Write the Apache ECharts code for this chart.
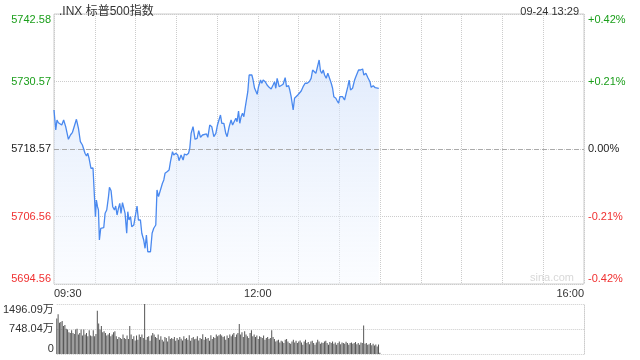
<!DOCTYPE html>
<html><head><meta charset="utf-8">
<script src="https://cdn.jsdelivr.net/npm/echarts@6/dist/echarts.min.js"></script>
<style>html,body{margin:0;padding:0;background:#fff}#c{width:640px;height:360px}</style>
</head><body><div id="c"></div>
<script>
const titleText = '.INX 标普500指数';
const dateText = '09-24 13:29';
const prevClose = 5718.57;
const priceHalfRange = 24.01;
const priceTickLabels = ['5694.56','5706.56','5718.57','5730.57','5742.58'];
const pctTickLabels = ['-0.42%','-0.21%','0.00%','+0.21%','+0.42%'];
const volMax = 1496.09;
const volTickLabels = ['0','748.04万','1496.09万'];
const timeTickMinutes = [0,150,390];
const timeTickLabels = ['09:30','12:00','16:00'];

const priceMinutes = [
0,1.3,2.2,3.2,4.4,5.7,7.1,8.6,10.6,12.1,
13.6,15.0,16.5,18.0,19.4,20.9,21.9,22.8,23.9,24.8,
25.8,27.2,28.7,29.8,30.5,31.2,32.0,32.7,33.4,34.4,
35.6,36.6,37.6,38.8,40.1,40.8,42.0,43.2,44.5,45.4,
46.4,47.4,48.4,49.3,50.4,51.3,52.3,53.5,54.3,55.2,
56.3,57.2,58.7,59.9,61.1,62.1,63.6,64.6,66.0,67.0,
68.0,69.0,70.0,71.0,72.2,73.4,74.9,75.8,76.9,78.3,
79.8,80.8,81.7,83.2,84.7,85.7,87.2,88.1,89.6,91.1,
92.0,93.5,95.0,96.0,97.5,99.0,99.9,100.9,102.3,103.8,
105.3,106.5,107.8,109.3,110.7,112.2,113.2,114.6,116.1,117.6,
119.1,120.3,121.5,122.5,123.5,125.0,126.4,127.4,128.9,130.3,
131.4,132.8,133.8,134.7,135.8,136.7,137.7,138.7,139.7,140.6,
141.7,142.6,143.6,144.6,145.6,146.5,147.6,148.5,149.5,150.5,
152.0,152.9,153.9,155.4,156.8,158.3,159.8,161.2,162.3,163.2,
164.2,165.7,167.1,168.6,170.1,171.1,172.6,173.5,174.5,176.0,
177.0,178.0,179.4,180.7,181.9,183.3,184.8,186.3,187.8,189.2,
190.3,191.7,192.7,193.6,195.1,196.1,197.1,198.1,199.1,200.3,
201.5,202.8,204.0,205.0,205.9,207.4,208.4,209.4,210.4,211.3,
212.3,213.8,215.0,216.2,217.2,218.2,219.7,221.2,222.1,223.1,
224.1,225.6,227.1,228.0,229.5,231.0,232.5,233.4,234.9,236.4,
237.8,239];

const priceValues = [
5725.51,5721.95,5723.73,5723.25,5723.60,5722.84,5723.73,5722.54,5720.30,5721.06,
5721.54,5721.24,5723.85,5722.25,5719.87,5719.28,5719.23,5717.81,5717.33,5717.81,
5716.92,5715.14,5715.19,5714.84,5706.53,5709.50,5708.31,5707.72,5702.39,5704.47,
5704.47,5704.57,5707.13,5707.72,5710.09,5711.76,5711.15,5708.31,5707.72,5708.43,
5706.83,5708.02,5708.91,5707.13,5709.02,5708.91,5707.13,5703.58,5707.42,5705.94,
5706.53,5704.75,5705.05,5704.75,5708.43,5705.94,5705.94,5703.58,5702.39,5700.91,
5703.27,5700.30,5700.61,5700.30,5703.58,5704.47,5705.05,5711.28,5710.09,5710.39,
5712.47,5713.06,5714.25,5714.53,5714.84,5716.31,5718.09,5717.50,5717.81,5717.50,
5716.49,5717.50,5716.61,5717.68,5717.50,5717.81,5718.69,5721.36,5722.54,5720.30,
5720.47,5721.82,5720.65,5721.06,5721.06,5721.24,5720.65,5722.84,5722.54,5720.76,
5721.36,5722.84,5723.14,5724.62,5723.14,5723.14,5721.36,5720.76,5722.54,5723.73,
5722.84,5723.14,5724.03,5723.43,5725.33,5723.14,5724.31,5724.92,5724.31,5725.81,
5725.51,5728.76,5731.73,5732.03,5731.73,5730.84,5729.37,5728.89,5728.30,5729.65,
5730.84,5730.26,5730.84,5730.54,5729.95,5729.54,5729.24,5729.95,5730.54,5729.37,
5731.14,5729.65,5729.83,5730.08,5731.25,5729.65,5729.83,5729.06,5727.87,5725.51,
5727.59,5727.87,5728.17,5727.87,5728.89,5729.65,5730.26,5730.26,5730.54,5731.14,
5732.62,5732.44,5732.03,5732.92,5734.40,5732.44,5732.03,5732.62,5731.73,5731.14,
5732.03,5731.86,5730.26,5729.37,5727.87,5727.59,5727.11,5726.70,5727.87,5727.69,
5727.87,5727.28,5727.59,5729.65,5730.84,5729.06,5729.37,5730.84,5731.43,5731.14,
5732.62,5732.62,5732.80,5731.73,5732.03,5731.25,5730.54,5729.54,5729.83,5729.47,
5729.37,5729.37];

const volumes = [
1059,1191,937,957,987,835,865,753,733,652,
631,713,631,601,733,753,580,631,733,550,
733,580,631,529,713,550,529,713,529,601,
1293,916,733,835,652,682,631,550,580,631,
529,580,652,682,529,448,509,478,448,580,
478,448,550,448,835,580,448,529,407,550,
428,580,509,580,478,1496,428,509,529,397,
550,631,580,509,478,580,428,529,428,377,
509,478,377,529,448,478,448,509,397,478,
428,509,458,407,529,448,478,428,560,397,
478,509,438,458,529,407,478,448,590,428,
509,458,478,397,560,448,509,478,580,529,
560,590,550,509,529,428,550,478,580,529,
580,631,509,580,631,900,580,652,509,682,
580,529,478,631,713,529,580,509,550,448,
529,509,478,550,428,478,509,448,478,713,
509,448,377,407,428,346,397,377,326,428,
448,377,326,305,377,428,346,397,326,377,
407,346,275,377,428,326,356,295,377,397,
326,275,346,428,377,305,346,326,377,397,
326,275,356,326,377,305,346,275,326,377,
295,346,326,305,366,326,275,326,346,305,
326,356,295,326,275,346,326,855,305,326,
275,295,326,265,305,254,285,224,285,40];

const FONT = '"Liberation Sans", Arial, "Noto Sans CJK SC", sans-serif';
const GREEN = '#1a9e1a', RED = '#f03030', DARK = '#222';
const tickColorKey = ['r','r','k','g','g'];
const rich = {
  g:{color:GREEN,fontSize:11,fontFamily:FONT},
  k:{color:DARK,fontSize:11,fontFamily:FONT},
  r:{color:RED,fontSize:11,fontFamily:FONT}
};
const priceStep = priceHalfRange/2;
const tickIdx = v => Math.round((v + priceHalfRange)/priceStep);

const priceData = priceMinutes.map((m,i)=>[m, priceValues[i]-prevClose]);
const volData = volumes.map((v,i)=>[i, v]);

const chart = echarts.init(document.getElementById('c'), null, {renderer:'canvas'});
chart.setOption({
  animation:false,
  textStyle:{fontFamily:FONT},
  title:[
    {text:titleText,left:54,top:1,textStyle:{fontSize:12,fontWeight:'normal',color:'#333',fontFamily:FONT}},
    {text:dateText,right:56,top:1,textStyle:{fontSize:11,fontWeight:'normal',color:'#333',fontFamily:FONT}}
  ],
  graphic:[{type:'text',right:66,top:272,style:{text:'sina.com',fill:'#d8d8d8',font:'11px '+FONT}}],
  grid:[
    {left:54,right:56,top:14,height:270,show:true,borderColor:'#ccc',borderWidth:1},
    {left:54,right:56,top:304,height:50}
  ],
  xAxis:[
    {gridIndex:0,type:'value',min:0,max:390,interval:30,
     axisLine:{show:false},axisTick:{show:false},
     splitLine:{show:true,lineStyle:{type:'dotted',color:'#ccc'}},
     axisLabel:{color:'#333',fontSize:11,margin:4,showMinLabel:true,showMaxLabel:true,
       alignMinLabel:'left',alignMaxLabel:'right',
       formatter:v=>{const k=timeTickMinutes.indexOf(v);return k>=0?timeTickLabels[k]:'';}}},
    {gridIndex:1,type:'value',min:0,max:390,interval:30,
     axisLine:{show:false},axisTick:{show:false},axisLabel:{show:false},splitLine:{show:false}}
  ],
  yAxis:[
    {gridIndex:0,type:'value',min:-priceHalfRange,max:priceHalfRange,interval:priceStep,
     axisLine:{show:false},axisTick:{show:false},
     splitLine:{show:true,lineStyle:{type:'dotted',color:'#ccc'}},
     axisLabel:{margin:3,rich:rich,verticalAlignMinLabel:'bottom',verticalAlignMaxLabel:'top',
       formatter:v=>{const k=tickIdx(v);return '{'+tickColorKey[k]+'|'+priceTickLabels[k]+'}';}}},
    {gridIndex:0,type:'value',position:'right',min:-priceHalfRange,max:priceHalfRange,interval:priceStep,
     axisLine:{show:false},axisTick:{show:false},splitLine:{show:false},
     axisLabel:{margin:4,rich:rich,verticalAlignMinLabel:'bottom',verticalAlignMaxLabel:'top',
       formatter:v=>{const k=tickIdx(v);return '{'+tickColorKey[k]+'|'+pctTickLabels[k]+'}';}}},
    {gridIndex:1,type:'value',min:0,max:volMax,interval:volMax/2,
     axisLine:{show:false},axisTick:{show:false},
     splitLine:{show:true,lineStyle:{type:'dotted',color:'#ccc'}},
     axisLabel:{margin:3,color:'#333',fontSize:11,verticalAlignMinLabel:'bottom',verticalAlignMaxLabel:'top',
       formatter:v=>volTickLabels[Math.round(v/(volMax/2))]}},
    {gridIndex:1,type:'value',position:'right',min:0,max:volMax,interval:volMax/2,
     axisLine:{show:true,lineStyle:{type:'dotted',color:'#ccc'}},axisTick:{show:false},
     axisLabel:{show:false},splitLine:{show:false}}
  ],
  series:[
    {type:'line',xAxisIndex:0,yAxisIndex:0,data:priceData,showSymbol:false,symbol:'none',
     lineStyle:{color:'#4a89ef',width:1.3},
     areaStyle:{origin:'start',color:new echarts.graphic.LinearGradient(0,0,0,1,[
       {offset:0,color:'rgba(205,222,250,0.85)'},{offset:1,color:'rgba(245,249,255,0.6)'}])},
     markLine:{silent:true,symbol:'none',label:{show:false},
       lineStyle:{type:[5,3],color:'#aaa',width:1},data:[{yAxis:0}]}},
    {type:'bar',xAxisIndex:1,yAxisIndex:2,data:volData,barWidth:1,
     itemStyle:{color:'#555'}}
  ]
});
</script></body></html>
